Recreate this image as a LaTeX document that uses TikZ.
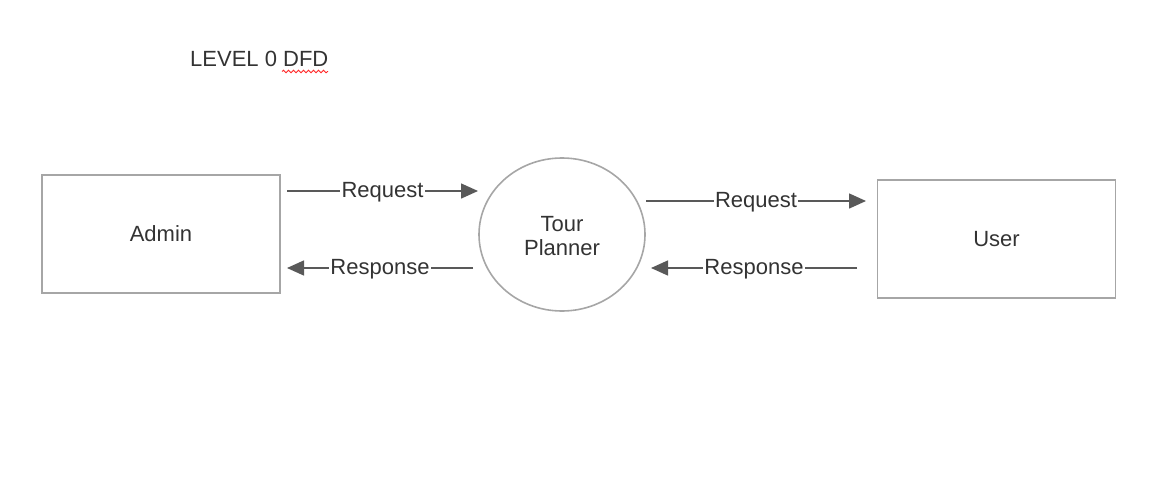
\documentclass[tikz,border=0pt]{standalone}
\usepackage{fontspec}
\setmainfont{Liberation Sans}
\usetikzlibrary{arrows.meta,decorations.pathmorphing,shapes.geometric}
\definecolor{boxline}{HTML}{A6A6A6}
\definecolor{arrline}{HTML}{595959}
\definecolor{txt}{HTML}{333333}
\tikzset{
  entity/.style={draw=boxline, line width=1.6pt, minimum width=238pt, minimum height=118pt, inner sep=0pt, text=txt, font=\fontsize{22}{24}\selectfont},
  process/.style={draw=boxline, line width=1.6pt, ellipse, minimum width=166pt, minimum height=153pt, inner sep=0pt, text=txt, align=center, font=\fontsize{22}{24}\selectfont},
  flow/.style={draw=arrline, line width=1.5pt, -{Triangle[length=17pt,width=15pt]}},
  flowlabel/.style={fill=white, inner sep=1.5pt, yshift=-1.5pt, text=txt, font=\fontsize{22}{24}\selectfont},
}
\begin{document}
\begin{tikzpicture}[x=1pt,y=-1pt]
\useasboundingbox (0,0) rectangle (1162,503);
\node[anchor=west, text=txt, inner sep=0pt, font=\fontsize{22}{24}\selectfont] (title) at (190,59) {LEVEL 0 DFD};
\draw[red!85!white, line width=0.9pt, decorate, decoration={snake, amplitude=1.3pt, segment length=5pt}] (282,71.5) -- (328,71.5);
\node[entity] (admin) at (161,234) {Admin};
\node[entity] (user) at (996.5,239) {User};
\node[process] (tp) at (562,234.5) {};
\node[text=txt, align=center, font=\fontsize{22}{24}\selectfont] (tptext) at (562,236.5) {Tour\\Planner};
\coordinate (a1s) at (287,191);
\coordinate (a1e) at (478,191);
\coordinate (a2s) at (473,268);
\coordinate (a2e) at (287,268);
\coordinate (a3s) at (646,201);
\coordinate (a3e) at (866,201);
\coordinate (a4s) at (857,268);
\coordinate (a4e) at (651,268);
\draw[flow] (a1s) -- node[flowlabel] (l1) {Request} (a1e);
\draw[flow] (a2s) -- node[flowlabel] (l2) {Response} (a2e);
\draw[flow] (a3s) -- node[flowlabel] (l3) {Request} (a3e);
\draw[flow] (a4s) -- node[flowlabel] (l4) {Response} (a4e);
\end{tikzpicture}
\end{document}
